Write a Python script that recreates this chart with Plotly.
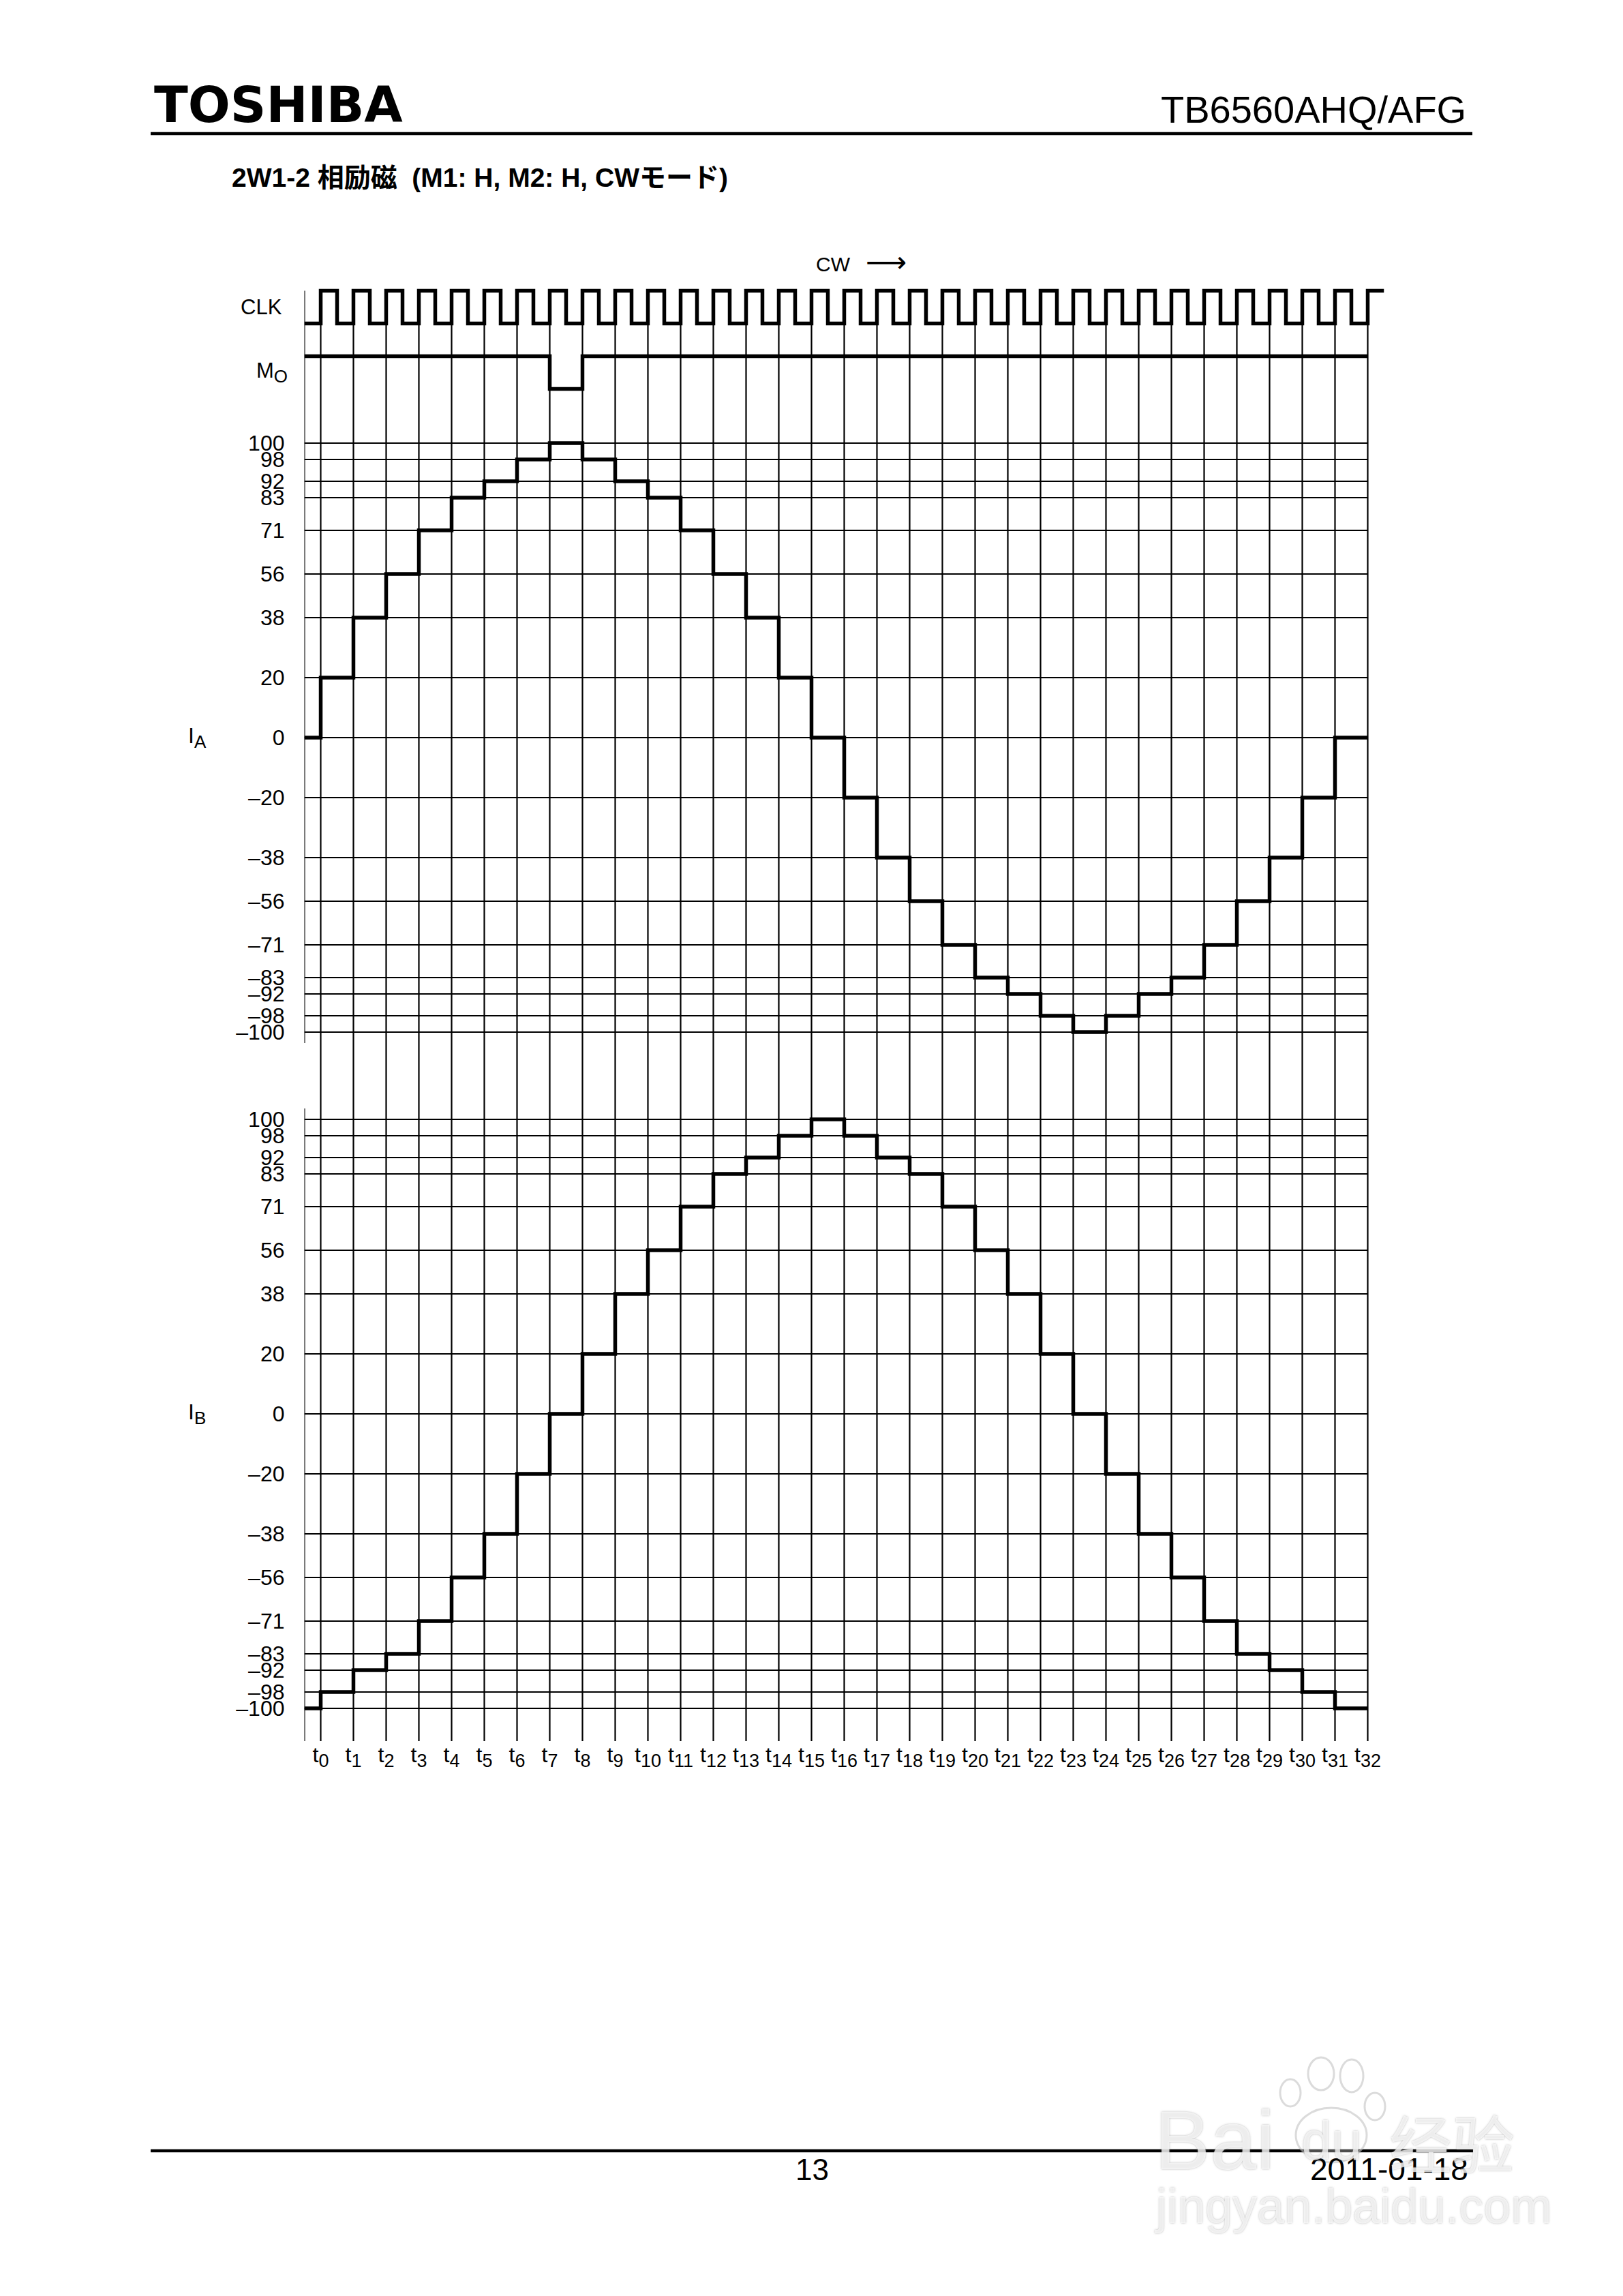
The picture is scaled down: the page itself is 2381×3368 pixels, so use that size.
import plotly.graph_objects as go

# ---------------------------------------------------------------- data
STEP_TICKS = list(range(33))                       # clock edges t0 ... t32
STEP_LABELS = ['t<sub><span style="font-size:27px">%d</span></sub>' % k for k in STEP_TICKS]

# current (%) before t0, then the level held after each edge t0 ... t31
IA_START = 0
IA_STEPS = [20, 38, 56, 71, 83, 92, 98, 100, 98, 92, 83, 71, 56, 38, 20, 0,
            -20, -38, -56, -71, -83, -92, -98, -100, -98, -92, -83, -71, -56, -38, -20, 0]
IB_START = -100
IB_STEPS = [-98, -92, -83, -71, -56, -38, -20, 0, 20, 38, 56, 71, 83, 92, 98, 100,
            98, 92, 83, 71, 56, 38, 20, 0, -20, -38, -56, -71, -83, -92, -98, -100]

# current levels (%) shown on the vertical axes and their labels
LEVELS = [100, 98, 92, 83, 71, 56, 38, 20, 0, -20, -38, -56, -71, -83, -92, -98, -100]
LEVEL_LABELS = ["100", "98", "92", "83", "71", "56", "38", "20", "0",
                "\u201320", "\u201338", "\u201356", "\u201371", "\u201383",
                "\u201392", "\u201398", "\u2013100"]
# the datasheet's schematic (non-linear) vertical scale: drawn height of each level
LEVEL_POS = [54, 51, 47, 44, 38, 30, 22, 11, 0, -11, -22, -30, -38, -44, -47, -51, -54]

# CLK half-periods from the left border to the right end (H/L)
CLK_STATES = ("L"
              "HLHLHLHLHLHLHLHL" "HLHLHLHLHLHLHLHL"
              "HLHLHLHLHLHLHLHL" "HLHLHLHLHLHLHLHL"
              "HH")
# MO (monitor) output transitions
MO_TIMES = [-0.5, 7, 8, 32]
MO_STATES = "HLHH"

# ---------------------------------------------------------------- layout constants
W, H = 2381, 3368
T0_PX, DT_PX = 470.5, 48.0          # x pixel of t0, pixels per step
IA_ZERO_PX, IB_ZERO_PX, UNIT_PX = 1082.0, 2074.0, 8.0
DIG_ZERO_PX, DIG_UNIT_PX = 570.5, 48.0
CLK_HI, CLK_LO, MO_HI, MO_LO = 3, 2, 1, 0

def pyp(px):  # pixel row -> paper y
    return 1 - px / H

def pxp(px):  # pixel column -> paper x
    return px / W

pos_of = dict(zip(LEVELS, LEVEL_POS))

x_lo, x_hi = -0.5, 32.5
x_dom = [pxp(T0_PX + x_lo * DT_PX), pxp(T0_PX + x_hi * DT_PX)]

def dom(zero_px, unit_px, lo, hi):
    return [pyp(zero_px - lo * unit_px), pyp(zero_px - hi * unit_px)]

IA_RANGE = [-58, 58]
IB_RANGE = [-58, 58]
DIG_RANGE = [-0.3, 3.3]

GRID_W = 2.2
WAVE_W = 5.5
BLACK = "#000000"
FONT = "Liberation Sans, Arial, sans-serif"

fig = go.Figure()

# horizontal grid lines of both current panels
for ax in ("y", "y2"):
    gx, gy = [], []
    for p in LEVEL_POS:
        gx += [x_lo, STEP_TICKS[-1], None]
        gy += [p, p, None]
    fig.add_trace(go.Scatter(x=gx, y=gy, mode="lines", yaxis=ax,
                             line=dict(color=BLACK, width=GRID_W),
                             hoverinfo="skip", showlegend=False))

# current waveforms (staircase)
def stair(start, steps):
    xs = [x_lo] + STEP_TICKS[:len(steps)] + [STEP_TICKS[-1]]
    ys = [pos_of[start]] + [pos_of[v] for v in steps] + [pos_of[steps[-1]]]
    return xs, ys

for start, steps, ax, nm in ((IA_START, IA_STEPS, "y", "IA"), (IB_START, IB_STEPS, "y2", "IB")):
    xs, ys = stair(start, steps)
    fig.add_trace(go.Scatter(x=xs, y=ys, mode="lines", line_shape="hv", yaxis=ax, name=nm,
                             line=dict(color=BLACK, width=WAVE_W), showlegend=False))

# digital signals
clk_t = [x_lo + 0.5 * i for i in range(len(CLK_STATES))]
clk_v = [CLK_HI if s == "H" else CLK_LO for s in CLK_STATES]
fig.add_trace(go.Scatter(x=clk_t, y=clk_v, mode="lines", line_shape="hv", yaxis="y3",
                         name="CLK", line=dict(color=BLACK, width=WAVE_W), showlegend=False))
mo_v = [MO_HI if s == "H" else MO_LO for s in MO_STATES]
fig.add_trace(go.Scatter(x=MO_TIMES, y=mo_v, mode="lines", line_shape="hv", yaxis="y3",
                         name="MO", line=dict(color=BLACK, width=WAVE_W), showlegend=False))

# vertical grid lines (t0..t32 from CLK low level to the bottom, left border)
top_t = pyp(DIG_ZERO_PX - CLK_LO * DIG_UNIT_PX)
bottom = pyp(IB_ZERO_PX - (LEVEL_POS[-1] - 6) * UNIT_PX)
shapes = []
for k in STEP_TICKS:
    shapes.append(dict(type="line", xref="x", yref="paper", x0=k, x1=k, y0=top_t, y1=bottom,
                       line=dict(color=BLACK, width=GRID_W), layer="below"))
shapes.append(dict(type="line", xref="x", yref="paper", x0=x_lo, x1=x_lo,
                   y0=pyp(DIG_ZERO_PX - CLK_HI * DIG_UNIT_PX),
                   y1=pyp(IA_ZERO_PX - (LEVEL_POS[-1] - 2) * UNIT_PX),
                   line=dict(color=BLACK, width=GRID_W), layer="below"))
shapes.append(dict(type="line", xref="x", yref="paper", x0=x_lo, x1=x_lo,
                   y0=pyp(IB_ZERO_PX - (LEVEL_POS[0] + 2) * UNIT_PX), y1=bottom,
                   line=dict(color=BLACK, width=GRID_W), layer="below"))
# page header / footer rules
shapes.append(dict(type="line", xref="paper", yref="paper", x0=pxp(221), x1=pxp(2160),
                   y0=pyp(196), y1=pyp(196), line=dict(color=BLACK, width=4.5)))
shapes.append(dict(type="line", xref="paper", yref="paper", x0=pxp(221), x1=pxp(2161),
                   y0=pyp(3155), y1=pyp(3155), line=dict(color=BLACK, width=4.5)))
# watermark paw
WM = "rgba(190,190,190,0.55)"
for cx, cy, rx, ry in ((1893, 3070, 15, 20), (1938, 3042, 19, 24), (1983, 3045, 17, 24),
                       (2017, 3090, 15, 20), (1953, 3132, 52, 40)):
    shapes.append(dict(type="circle", xref="paper", yref="paper",
                       x0=pxp(cx - rx), x1=pxp(cx + rx), y0=pyp(cy + ry), y1=pyp(cy - ry),
                       line=dict(color=WM, width=3), fillcolor="rgba(255,255,255,0.3)", layer="above"))

ann = []
def text(x, y, s, size, xanchor="left", family=FONT, color=BLACK, xref="paper", yref="paper",
         shadow=None):
    f = dict(family=family, size=size, color=color)
    if shadow:
        f["shadow"] = shadow
    ann.append(dict(x=x, y=y, xref=xref, yref=yref, text=s, showarrow=False,
                    xanchor=xanchor, yanchor="middle", font=f))

SUB = '<sub><span style="font-size:26px">%s</span></sub>'
LBL_R = pxp(416)
text(pxp(224), pyp(154), "<b>TOSHIBA</b>", 73, family="DejaVu Sans, Liberation Sans")
text(pxp(2153), pyp(161), "TB6560AHQ/AFG", 56, xanchor="right")
text(pxp(338), pyp(261), "<b>2W1-2 相励磁  (M1: H, M2: H, CWモード)</b>", 39,
     family="Liberation Sans, Noto Sans CJK JP, sans-serif")
text(pxp(1222), pyp(387), "CW", 30, xanchor="center")
text(pxp(1300), pyp(384), "\u27f6", 42, xanchor="center", family="DejaVu Sans")
text(LBL_R, (CLK_HI + CLK_LO) / 2, "CLK", 31, xanchor="right", yref="y3")
text(pxp(424), (MO_HI + MO_LO) / 2, "M" + SUB % "O", 31, xanchor="right", yref="y3")
text(LBL_R, 58.5, "(%)", 31, xanchor="right", yref="y")
text(LBL_R, 58.6, "(%)", 31, xanchor="right", yref="y2")
text(pxp(274), 0, "I" + SUB % "A", 32, yref="y")
text(pxp(274), 0, "I" + SUB % "B", 32, yref="y2")
text(pxp(1191), pyp(3182), "13", 44, xanchor="center")
text(pxp(2156), pyp(3182), "2011-01-18", 46, xanchor="right")
# watermark
WSH = "0px 0px 3px rgba(120,120,120,0.7)"
WCOL = "rgba(255,255,255,0.75)"
text(pxp(1692), pyp(3140), "Bai", 122, family="Liberation Sans", color=WCOL, shadow=WSH)
text(pxp(1953), pyp(3140), "du", 80, xanchor="center", family="Liberation Sans", color=WCOL, shadow=WSH)
text(pxp(2036), pyp(3140), "经验", 92, family="Noto Sans CJK SC", color=WCOL, shadow=WSH)
text(pxp(1692), pyp(3236), "jingyan.baidu.com", 72, family="Liberation Sans", color=WCOL, shadow=WSH)

yax = dict(tickvals=LEVEL_POS, ticktext=LEVEL_LABELS, ticks="", showgrid=False, zeroline=False,
           showline=False, anchor="x", automargin=False, ticklabelstandoff=28,
           tickfont=dict(family=FONT, size=32, color=BLACK))

fig.update_layout(
    width=W, height=H, margin=dict(l=0, r=0, t=0, b=0),
    paper_bgcolor="white", plot_bgcolor="rgba(0,0,0,0)",
    showlegend=False, shapes=shapes, annotations=ann,
    xaxis=dict(domain=x_dom, range=[x_lo, x_hi], tickvals=STEP_TICKS, ticktext=STEP_LABELS,
               ticks="", showgrid=False, zeroline=False, showline=False, anchor="free",
               position=bottom, side="bottom", automargin=False, ticklabelstandoff=-2,
               tickfont=dict(family=FONT, size=32, color=BLACK)),
    yaxis=dict(domain=dom(IA_ZERO_PX, UNIT_PX, *IA_RANGE), range=IA_RANGE, **yax),
    yaxis2=dict(domain=dom(IB_ZERO_PX, UNIT_PX, *IB_RANGE), range=IB_RANGE, **yax),
    yaxis3=dict(domain=dom(DIG_ZERO_PX, DIG_UNIT_PX, *DIG_RANGE), range=DIG_RANGE,
                visible=False, anchor="x"),
)

fig.write_html("out.html", config={"displayModeBar": False},
               post_script="document.body.style.margin='0px';")
